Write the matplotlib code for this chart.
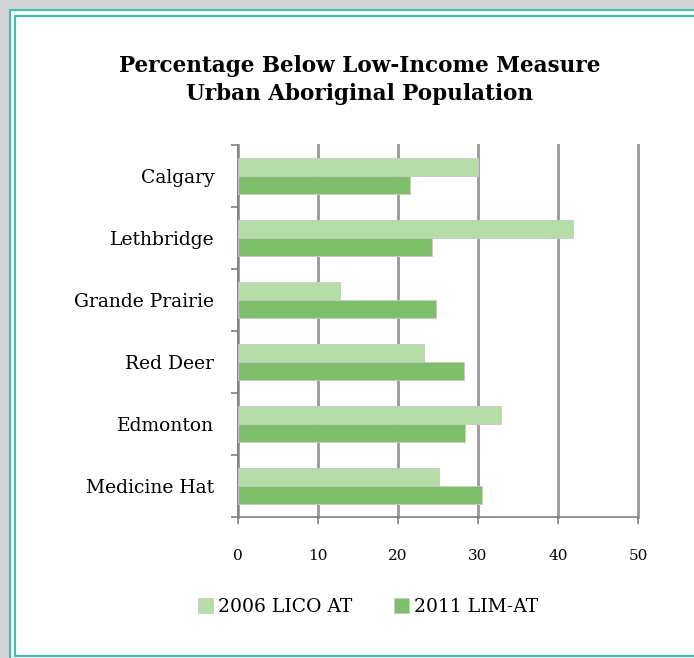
import matplotlib
matplotlib.use('Agg')
import matplotlib.pyplot as plt
import matplotlib.patches as patches
import numpy as np

# data
cities = ['Calgary', 'Lethbridge', 'Grande Prairie', 'Red Deer', 'Edmonton', 'Medicine Hat']
lico_2006 = [30.0, 41.9, 12.7, 23.3, 32.9, 25.1]
lim_2011 = [21.5, 24.3, 24.8, 28.3, 28.4, 30.5]
series_names = ['2006 LICO AT', '2011 LIM-AT']
xticks = [0, 10, 20, 30, 40, 50]

light = '#b5dda8'
dark = '#7fbe6a'
teal = '#3cbfb0'

plt.rcParams['font.family'] = ['DejaVu Serif']

W, H = 694, 658
fig = plt.figure(figsize=(W / 100, H / 100), dpi=100)
fig.patch.set_facecolor('#d1d2d4')

# page frame
def px_rect(x0, y0, x1, y1, **kw):
    return patches.Rectangle((x0 / W, 1 - y1 / H), (x1 - x0) / W, (y1 - y0) / H,
                             transform=fig.transFigure, zorder=-5, **kw)

fig.patches.append(px_rect(10, 10, 720, 680, facecolor='white', edgecolor=teal, lw=1.5))
fig.patches.append(px_rect(15, 16, 720, 656, facecolor='white', edgecolor=teal, lw=1.5))

ax = fig.add_axes([238 / W, 1 - 517 / H, 400 / W, 372 / H])
ax.set_facecolor('none')

y = np.arange(len(cities))
h = 0.29
ax.barh(y - h / 2, lico_2006, height=h, color=light, edgecolor='#c8c8c8', lw=0.6, label=series_names[0], zorder=3)
ax.barh(y + h / 2, lim_2011, height=h, color=dark, edgecolor='#c8c8c8', lw=0.6, label=series_names[1], zorder=3)

ax.set_ylim(len(cities) - 0.5, -0.5)
ax.set_xlim(0, 50)
ax.set_xticks(xticks)
ax.set_xticklabels([str(t) for t in xticks], fontsize=11)
ax.set_yticks(y)
ax.set_yticklabels(cities, fontsize=13.5)
ax.tick_params(axis='y', length=0, pad=17)
# category boundary ticks
ax.set_yticks(np.arange(-0.5, len(cities)), minor=True)
ax.tick_params(axis='y', which='minor', length=5, color='#808080', width=1.2)
ax.tick_params(axis='x', length=5, color='#808080', width=1.2, pad=18)

ax.grid(axis='x', color='#999999', lw=2, zorder=0)
for gl in ax.get_xgridlines():
    gl.set_clip_on(False)
for s in ['top', 'right']:
    ax.spines[s].set_visible(False)
for s in ['left', 'bottom']:
    ax.spines[s].set_color('#808080')
    ax.spines[s].set_linewidth(1.2)

fig.text(360 / W, 1 - 80 / H, 'Percentage Below Low-Income Measure\nUrban Aboriginal Population',
         ha='center', va='center', fontsize=15.5, fontweight='bold', linespacing=1.4)

ax.legend(loc='center', bbox_to_anchor=(368 / W, 1 - 607 / H), bbox_transform=fig.transFigure,
          ncol=2, frameon=False, fontsize=13.5, handlelength=0.8, handleheight=0.8,
          handletextpad=0.3, columnspacing=2.2)

fig.savefig('out.png', dpi=100, facecolor=fig.get_facecolor())
